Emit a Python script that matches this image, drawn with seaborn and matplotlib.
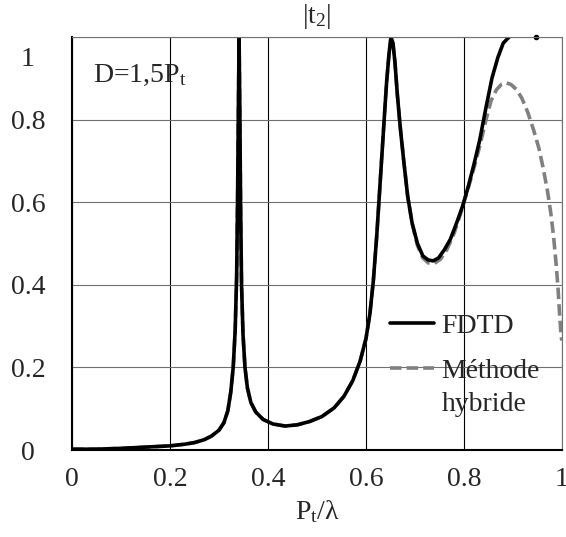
import numpy as np
import pandas as pd
import matplotlib
matplotlib.use("Agg")
import matplotlib.pyplot as plt
import seaborn as sns
from matplotlib.legend_handler import HandlerLine2D
from matplotlib.transforms import ScaledTranslation

# |t2| versus Pt/lambda
fdtd_x = np.array([0.0, 0.05, 0.1, 0.15, 0.2, 0.23, 0.25, 0.27, 0.285, 0.30,
                   0.31, 0.318, 0.324, 0.329, 0.333, 0.336, 0.338, 0.3395, 0.341,
                   0.3425, 0.344, 0.346, 0.349, 0.353, 0.358, 0.365, 0.375, 0.39,
                   0.41, 0.435, 0.46, 0.485, 0.51, 0.535, 0.555, 0.573, 0.588,
                   0.600, 0.608, 0.615, 0.622, 0.629, 0.636, 0.642, 0.647, 0.651,
                   0.655, 0.659, 0.664, 0.67, 0.677, 0.685, 0.694, 0.705, 0.716,
                   0.727, 0.737, 0.748, 0.76, 0.772, 0.785, 0.797, 0.808, 0.82,
                   0.832, 0.845, 0.857, 0.869, 0.88, 0.892])
fdtd_y = np.array([0.002, 0.002, 0.004, 0.007, 0.01, 0.014, 0.018, 0.025, 0.034, 0.048,
                   0.066, 0.095, 0.14, 0.2, 0.29, 0.42, 0.62, 0.82, 1.0,
                   0.82, 0.6, 0.4, 0.28, 0.2, 0.15, 0.115, 0.092, 0.074,
                   0.063, 0.058, 0.061, 0.069, 0.081, 0.102, 0.13, 0.168, 0.215,
                   0.27, 0.33, 0.41, 0.52, 0.65, 0.78, 0.89, 0.96, 1.0,
                   0.985, 0.94, 0.86, 0.78, 0.70, 0.615, 0.55, 0.50, 0.47,
                   0.46, 0.458, 0.465, 0.485, 0.51, 0.55, 0.59, 0.635, 0.69,
                   0.75, 0.83, 0.90, 0.95, 0.985, 1.0])

# hybrid method: same as FDTD below 0.70, then its own branch
hyb_tail_x = np.array([0.705, 0.716, 0.727, 0.74, 0.752, 0.765, 0.78, 0.795, 0.81,
                       0.822, 0.833, 0.845, 0.855, 0.866, 0.877, 0.886, 0.896, 0.907,
                       0.918, 0.93, 0.942, 0.953, 0.962, 0.97, 0.977, 0.983, 0.988,
                       0.992, 0.995, 0.998, 0.9995])
hyb_tail_y = np.array([0.495, 0.465, 0.453, 0.452, 0.462, 0.485, 0.525, 0.58, 0.64,
                       0.69, 0.74, 0.80, 0.845, 0.872, 0.886, 0.889, 0.885, 0.873,
                       0.852, 0.818, 0.775, 0.73, 0.68, 0.63, 0.575, 0.515, 0.45,
                       0.39, 0.33, 0.28, 0.265])

dot_x = [0.947]
dot_y = [1.0]

ticks = [0, 0.2, 0.4, 0.6, 0.8, 1.0]
tick_labels = ["0", "0.2", "0.4", "0.6", "0.8", "1"]

keep = fdtd_x < 0.70
hyb = pd.DataFrame({"x": np.concatenate([fdtd_x[keep], hyb_tail_x]),
                    "y": np.concatenate([fdtd_y[keep], hyb_tail_y])})
fdtd = pd.DataFrame({"x": fdtd_x, "y": fdtd_y})


class FirstLineHandler(HandlerLine2D):
    # put the handle next to the first line of a two-line label
    def __init__(self, dy=0.0, **kw):
        super().__init__(**kw)
        self.dy = dy

    def create_artists(self, legend, orig_handle, xdescent, ydescent,
                       width, height, fontsize, trans):
        arts = super().create_artists(legend, orig_handle, xdescent, ydescent,
                                      width, height, fontsize, trans)
        for a in arts:
            a.set_ydata(np.asarray(a.get_ydata()) + self.dy)
        return arts


sns.set_style("white")
plt.rcParams["font.family"] = ["Liberation Serif", "DejaVu Serif"]
plt.rcParams["mathtext.fontset"] = "custom"
plt.rcParams["mathtext.rm"] = "Liberation Serif"
plt.rcParams["mathtext.default"] = "regular"
plt.rcParams["font.size"] = 20

fig = plt.figure(figsize=(5.66, 5.37), dpi=100)
ax = fig.add_axes([72 / 566, (537 - 450) / 537, 490 / 566, 413 / 537])

sns.lineplot(data=hyb, x="x", y="y", ax=ax, color="#808080", lw=2.6,
             linestyle=(0, (3.2, 1.4)), label="Méthode\nhybride")
sns.lineplot(data=fdtd, x="x", y="y", ax=ax, color="black", lw=2.6,
             label="FDTD")
ax.plot(dot_x, dot_y, "o", color="black", ms=3, clip_on=False)

ax.set_xlim(0, 1)
ax.set_ylim(0, 1)
ax.set_xticks(ticks)
ax.set_xticklabels(tick_labels)
ax.set_yticks(ticks)
ax.set_yticklabels(tick_labels)
ax.tick_params(axis="x", length=0, pad=12, labelsize=20)
ax.tick_params(axis="y", length=0, pad=31.7, labelsize=20)
for lab in ax.get_yticklabels():
    lab.set_horizontalalignment("center")
# the top label sits a little below its gridline in the original
top = ax.yaxis.get_major_ticks()[-1].label1
top.set_transform(top.get_transform() + ScaledTranslation(0, -0.20, fig.dpi_scale_trans))

ax.xaxis.grid(True, color="black", lw=0.8)
ax.yaxis.grid(True, color="#707070", lw=0.8)
ax.set_axisbelow(True)
for side in ["left", "bottom"]:
    ax.spines[side].set_color("black")
    ax.spines[side].set_linewidth(1.5)
for side in ["top", "right"]:
    ax.spines[side].set_color("#707070")
    ax.spines[side].set_linewidth(0.8)

ax.set_xlabel("P$_{t}$/λ", labelpad=5)
ax.set_ylabel("")
ax.set_title("|t$_{2}$|", fontsize=20, pad=10)
ax.text(0.043, 0.908, "D=1,5P$_{t}$", transform=ax.transAxes, va="center",
        fontsize=20)

handles, labels = ax.get_legend_handles_labels()
order = [labels.index("FDTD"), labels.index("Méthode\nhybride")]
hyb_handle = handles[order[1]]
leg = ax.legend([handles[i] for i in order], [labels[i] for i in order],
                loc="upper left", bbox_to_anchor=(0.649, 0.33), frameon=False,
                borderpad=0, borderaxespad=0, handlelength=1.6, handletextpad=0.25,
                labelspacing=0.7, fontsize=20,
                handler_map={hyb_handle: FirstLineHandler(dy=13.8)})
leg.get_texts()[1].set_linespacing(1.42)

fig.savefig("out.png", dpi=100)
